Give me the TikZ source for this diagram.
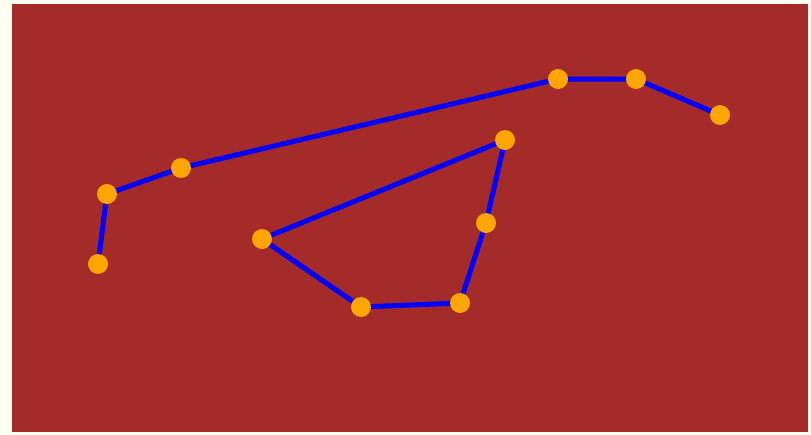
\documentclass[tikz,border=0pt]{standalone}
\pgfdeclarelayer{bg}
\pgfdeclarelayer{edges}
\pgfsetlayers{bg,edges,main}
\definecolor{cream}{HTML}{FFFEF0}
\definecolor{brick}{HTML}{A52A2A}
\definecolor{vert}{HTML}{FFA500}
\definecolor{edgeblue}{HTML}{0000FF}
\begin{document}
\begin{tikzpicture}[x=1pt,y=-1pt,
  vtx/.style={circle,fill=vert,draw=none,minimum size=20pt,inner sep=0pt},
  link/.style={draw=edgeblue,line width=5pt}]
\begin{pgfonlayer}{bg}
\fill[cream] (0,0) rectangle (811,434);
\fill[brick] (12,4) rectangle (808,432);
\end{pgfonlayer}
\useasboundingbox (0,0) rectangle (811,434);
% path 1
\node[vtx] (a1) at (98,264) {};
\node[vtx] (a2) at (107,194) {};
\node[vtx] (a3) at (181,168) {};
\node[vtx] (a4) at (558,79) {};
\node[vtx] (a5) at (636,79) {};
\node[vtx] (a6) at (720,115) {};
% path 2
\node[vtx] (b1) at (505,140) {};
\node[vtx] (b2) at (262,239) {};
\node[vtx] (b3) at (361,307) {};
\node[vtx] (b4) at (460,303) {};
\node[vtx] (b5) at (486,223) {};
\begin{pgfonlayer}{edges}
\draw[link] (a1.center) -- (a2.center) -- (a3.center) -- (a4.center) -- (a5.center) -- (a6.center);
\draw[link] (b1.center) -- (b2.center) -- (b3.center) -- (b4.center) -- (b5.center) -- (b1.center);
\end{pgfonlayer}
\end{tikzpicture}
\end{document}
